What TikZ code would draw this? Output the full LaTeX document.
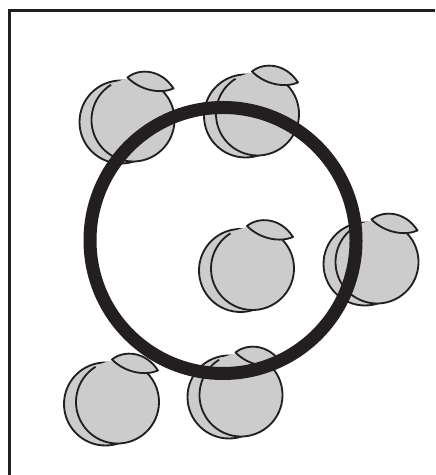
\documentclass[tikz,border=0pt]{standalone}
\usepackage{xcolor}
\usepackage{tikz}
\usetikzlibrary{calc}
\definecolor{kink}{HTML}{231F20}
\definecolor{kapple}{HTML}{CCCCCC}
\tikzset{
  frame/.style={draw=kink, line width=1.3pt},
  applebody/.style={fill=kapple, draw=kink, line width=1.05pt},
  applefront/.style={fill=kapple},
  appleline/.style={draw=kink, line width=1.05pt},
  applering/.style={draw=kink, line width=7.4pt},
}
% #1 name, #2 x, #3 y (centre of the front circle, pixel units)
\newcommand{\apple}[3]{%
  \coordinate (#1) at (#2,#3);
  \begin{scope}[shift={(#1)}]
    \path[applebody] (-12,-2) circle (41.5);
    \path[applefront] (0,0) circle (41.5);
    \draw[appleline] (122:41.5) arc (122:450:41.5);
    \path[applebody, line join=round] (-5.5,42.5) .. controls (6,52) and (28,51) .. (40.5,31.5)
      .. controls (28,26) and (8,29) .. cycle;
  \end{scope}
}

\begin{document}
\begin{tikzpicture}[x=0.02cm, y=0.02cm]

  \useasboundingbox (0,0) rectangle (435,475);
  \clip (0,0) rectangle (435,475);
  % only the top and left edges of the frame are in view
  \draw[frame] (9.5,0) |- (435,464.5);

  \apple{appletl}{133}{355}
  \apple{appletm}{257.5}{361}
  \apple{applemid}{252.5}{206.5}
  \apple{appler}{377}{213}
  \apple{applebl}{117.5}{73}
  \apple{applebm}{241}{80}

  \coordinate (ringc) at (223,234.5);
  \draw[applering] (ringc) circle (133);

\end{tikzpicture}
\end{document}
